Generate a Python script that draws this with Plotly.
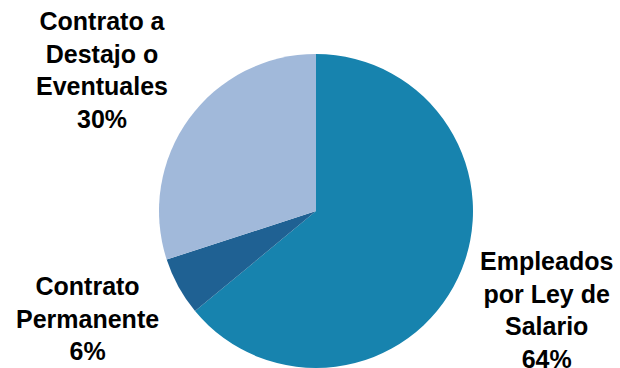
import plotly.graph_objects as go

labels = ["Empleados por Ley de Salario", "Contrato Permanente", "Contrato a Destajo o Eventuales"]
label_lines = [["Empleados", "por Ley de", "Salario"], ["Contrato", "Permanente"], ["Contrato a", "Destajo o", "Eventuales"]]
values = [64, 6, 30]
colors = ["#1783AE", "#1F6193", "#A1B9DA"]

W, H = 620, 368
cx, cy, r = 316, 211, 157

fig = go.Figure(go.Pie(
    labels=labels,
    values=values,
    sort=False,
    direction="clockwise",
    rotation=0,
    marker=dict(colors=colors, line=dict(width=0)),
    textinfo="none",
    hoverinfo="label+percent",
    showlegend=False,
    domain=dict(x=[(cx - r) / W, (cx + r) / W], y=[(H - cy - r) / H, (H - cy + r) / H]),
))

# label anchor positions (pixel centers)
label_pos = [(546, 310), (87, 318), (102, 70)]
for lines, v, (px, py) in zip(label_lines, values, label_pos):
    fig.add_annotation(
        x=px / W, y=1 - py / H, xref="paper", yref="paper",
        text="<br>".join(lines + [f"{v}%"]),
        showarrow=False, xanchor="center", yanchor="middle", align="center",
        font=dict(family="Liberation Sans, Arial, sans-serif", size=25, color="#000000", weight="bold"),
    )

fig.update_layout(
    width=W, height=H,
    margin=dict(l=0, r=0, t=0, b=0),
    paper_bgcolor="white", plot_bgcolor="white",
)

fig.write_html("out.html")
